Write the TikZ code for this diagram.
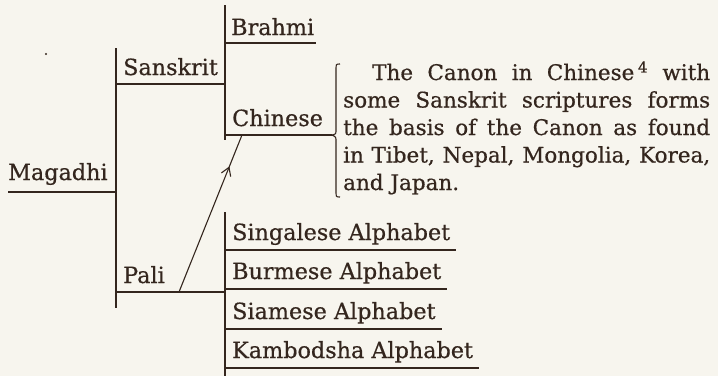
\documentclass[tikz,border=0pt]{standalone}
\usepackage{fontspec}
\setmainfont{DejaVu Serif}[FakeBold=0.6]
\usepackage{tikz}
\usetikzlibrary{arrows.meta}
\usetikzlibrary{calc}
\usetikzlibrary{decorations.markings}
\definecolor{ink}{RGB}{52,38,30}
\definecolor{paper}{RGB}{247,245,238}

\begin{document}
\begin{tikzpicture}[
    x=1pt, y=-1pt, % one unit per pixel, y pointing down
    font=\fontsize{21.5}{27.5}\selectfont, % size of all texts
    lang/.style={anchor=base west, inner sep=0pt, text=ink, font=\fontsize{22.3}{27.5}\selectfont}, % a language label
    bar/.style={draw=ink, line width=1.6pt}, % vertical bars of the tree
    uline/.style={draw=ink, line width=1.4pt} % line under a label
]
    % --- Paper and bounding box ---
    \fill[paper] (0,0) rectangle (718,376);
    \useasboundingbox (0,0) rectangle (718,376);
    \fill[ink] (46,54) circle (1.2); % speck on the page

    % --- Bars of the tree ---
    \coordinate (B1t) at (116,48);  \coordinate (B1b) at (116,308); % Magadhi
    \coordinate (B2t) at (225,5);   \coordinate (B2b) at (225,140); % Sanskrit
    \coordinate (B3t) at (225,212); \coordinate (B3b) at (225,376); % Pali
    \draw[bar] (B1t) -- (B1b);
    \draw[bar] (B2t) -- (B2b);
    \draw[bar] (B3t) -- (B3b);

    % --- Labels ---
    \node[lang] (magadhi)   at (8,180)   {Magadhi};
    \node[lang] (sanskrit)  at (123,75)  {Sanskrit};
    \node[lang] (pali)      at (123,283) {Pali};
    \node[lang] (brahmi)    at (231,35)  {Brahmi};
    \node[lang] (chinese)   at (232,126) {Chinese};
    \node[lang] (singalese) at (232,240) {Singalese Alphabet};
    \node[lang] (burmese)   at (232,279) {Burmese Alphabet};
    \node[lang] (siamese)   at (232,319) {Siamese Alphabet};
    \node[lang] (kambodsha) at (232,358) {Kambodsha Alphabet};

    % --- Underlines ---
    \draw[uline] (magadhi.west |- 0,192) -- (B1t |- 0,192);
    \draw[uline] (B1t |- 0,84) -- (B2t |- 0,84);   % Sanskrit
    \draw[uline] (B1t |- 0,292) -- (B2t |- 0,292); % Pali
    \draw[uline] (B2t |- 0,43) -- ($(brahmi.east |- 0,43)+(2,0)$);
    \coordinate (tip) at (332,135); % point of the brace
    \draw[uline] (B2t |- 0,135) -- (tip); % Chinese
    \draw[uline] (B3t |- 0,250) -- ($(singalese.east |- 0,250)+(6,0)$);
    \draw[uline] (B3t |- 0,289) -- ($(burmese.east |- 0,289)+(6,0)$);
    \draw[uline] (B3t |- 0,329) -- ($(siamese.east |- 0,329)+(6,0)$);
    \draw[uline] (B3t |- 0,368) -- ($(kambodsha.east |- 0,368)+(6,0)$);

    % --- Pali feeds the Chinese canon ---
    \coordinate (palifoot) at (179,292);
    \coordinate (chinafoot) at (242,135);
    \draw[uline, line width=1.1pt, postaction={decorate},
        decoration={markings, mark=at position 0.8 with {\arrow{Straight Barb[length=8pt, width=10pt, line width=1.1pt]}}}]
        (palifoot) -- (chinafoot);

    % --- Brace and note ---
    \draw[ink, line width=1.1pt] (340,64) .. controls (336,64) .. (336,70) -- (336,130)
        .. controls (336,134) .. (tip) .. controls (336,137) .. (336,141) -- (336,191)
        .. controls (336,197) .. (340,197);
    \node[anchor=base west, inner sep=0pt, text=ink] (canon) at (343,80)
        {\parbox[t]{367pt}{\hspace*{29pt}The Canon in Chinese\,\textsuperscript{4} with\linebreak
        some Sanskrit scriptures forms\linebreak
        the basis of the Canon as found\linebreak
        in Tibet, Nepal, Mongolia, Korea,\linebreak
        and Japan.}};

\end{tikzpicture}
\end{document}
